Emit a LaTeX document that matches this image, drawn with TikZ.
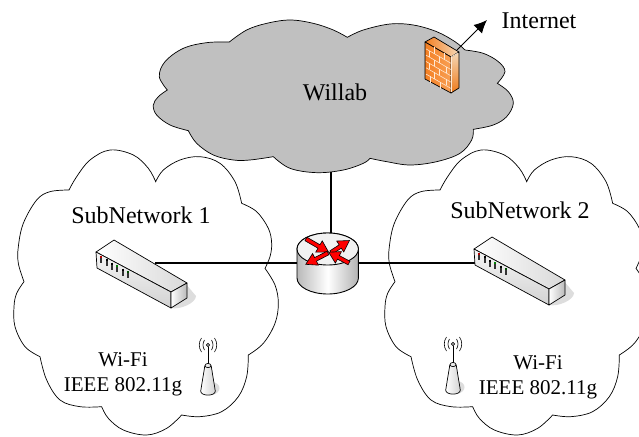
\documentclass[tikz,border=0pt]{standalone}
\usepackage{fontspec}
\setmainfont{Liberation Serif}
\usetikzlibrary{calc,arrows.meta}
\definecolor{willabgray}{HTML}{C0C0C0}
\definecolor{fworange}{HTML}{F47F22}
\definecolor{fwlight}{HTML}{F8A055}
\definecolor{fwdark}{HTML}{EE7A1A}
\definecolor{fwpale}{HTML}{F6D9B8}
\definecolor{brick}{HTML}{FFEAD6}
\definecolor{shadowgray}{HTML}{DDDDDD}
\tikzset{
  cloudline/.style={draw=black,line width=0.7pt},
  bump/.style={smooth,tension=0.6},
  link/.style={draw=black,line width=1.4pt},
  lbl/.style={font=\fontsize{24}{26}\selectfont,inner sep=0pt},
  small/.style={font=\fontsize{21}{23}\selectfont,inner sep=0pt},
  edge/.style={draw=black,line width=0.7pt,line join=round},
  subcloud/.pic={
    \begin{scope}[x=0.33333pt,y=-0.33333pt]
    \path[cloudline,fill=white] (207,150)
      -- plot[bump] coordinates {(207,150)(230,110)(270,60)(330,30)(400,45)(445,85)(467,125)}
      -- plot[bump] coordinates {(467,125)(490,90)(540,60)(600,50)(660,70)(705,125)(725,190)}
      -- plot[bump] coordinates {(725,190)(770,215)(805,265)(815,310)(810,350)(795,385)}
      -- plot[bump] coordinates {(795,385)(825,435)(835,490)(825,550)(790,610)(745,645)}
      -- plot[bump] coordinates {(745,645)(740,710)(715,770)(665,815)(600,830)(545,825)}
      -- plot[bump] coordinates {(545,825)(500,865)(440,885)(370,870)(325,835)(305,800)}
      -- plot[bump] coordinates {(305,800)(240,800)(180,780)(140,720)(120,650)}
      -- plot[bump] coordinates {(120,650)(75,620)(45,560)(42,500)(50,460)(72,425)}
      -- plot[bump] coordinates {(72,425)(55,370)(55,320)(70,250)(110,180)(150,155)(207,150)}
      -- cycle;
    \end{scope}
  },
  switchicon/.pic={
    \fill[shadowgray] (185,283) -- (196,296) .. controls (196,303) and (180,310) .. (171,308) -- cycle;
    \shade[left color=white,right color=gray!30,edge] (114,240) -- (187,283) -- (171,292) -- (96,252) -- cycle;
    \shade[top color=gray!8,bottom color=gray!35,edge] (96,252) -- (171,292) -- (171,308) -- (97,268) -- cycle;
    \shade[left color=white,right color=gray!55,edge] (171,292) -- (187,283) -- (187,298) -- (171,308) -- cycle;
    \foreach \px/\py/\pc in {101/256/red!70!black,107/259/black,112/262.5/black,117/265/green!50!black,123/268.5/black,128/271/green!30!black}{
      \draw[black!80,line width=1.3pt] (\px,\py+2) -- (\px,\py+7);
      \draw[\pc,line width=1.3pt] (\px,\py) -- (\px,\py+2);
    }
  },
  antennaicon/.pic={
    \fill[shadowgray] (212,382) .. controls (222,383) and (222,393) .. (212,395) -- cycle;
    \draw[black,line width=0.7pt] (208,346.5) -- (208,365);
    \draw[black,line width=0.6pt] (208,345) circle[radius=1.6pt];
    \draw[black,line width=0.6pt] (204.5,340) .. controls (202.5,343) and (202.5,347) .. (204.5,350);
    \draw[black,line width=0.6pt] (201.5,338) .. controls (198.5,342) and (198.5,348) .. (201.5,352);
    \draw[black,line width=0.6pt] (211.5,340) .. controls (213.5,343) and (213.5,347) .. (211.5,350);
    \draw[black,line width=0.6pt] (214.5,338) .. controls (217.5,342) and (217.5,348) .. (214.5,352);
    \shade[left color=white,right color=gray!35,edge] (204.8,366)
      .. controls (205.5,362.5) and (210.5,362.5) .. (211.2,366)
      -- (215.3,391) .. controls (215.5,396.5) and (200.5,396.5) .. (200.7,391) -- cycle;
    \draw[edge] (204.8,366) .. controls (205.5,368) and (210.5,368) .. (211.2,366);
  },
}
\newcommand\rarrow[4]{% x y angle length
  \begin{scope}[shift={(#1,#2)},rotate=#3]
    \filldraw[fill=red,draw=black,line width=0.6pt,line join=miter]
      (0pt,-2pt) -- (#4pt-11pt,-2pt) -- (#4pt-11pt,-6.5pt) -- (#4pt,0pt)
      -- (#4pt-11pt,6.5pt) -- (#4pt-11pt,2pt) -- (0pt,2pt) -- cycle;
  \end{scope}}
\begin{document}
\begin{tikzpicture}[x=1pt,y=-1pt]
\useasboundingbox (0,0) rectangle (639,436);
\clip (0,0) rectangle (639,436);
\fill[white] (0,0) rectangle (639,436);

% sub-network clouds
\pic at (0,140) {subcloud};
\pic at (371,140) {subcloud};

% Willab cloud
\begin{scope}[shift={(150,0)},x=0.33333pt,y=-0.33333pt]
\path[cloudline,fill=willabgray] (52,270)
  -- plot[bump] coordinates {(52,270)(28,230)(45,185)(100,145)(170,128)(238,126)}
  -- plot[bump] coordinates {(238,126)(290,90)(350,70)(420,60)(490,70)(550,90)(592,112)}
  -- plot[bump] coordinates {(592,112)(640,90)(720,72)(790,75)(860,95)(915,125)(945,150)}
  -- plot[bump] coordinates {(945,150)(1000,160)(1045,185)(1065,215)(1042,250)}
  -- plot[bump] coordinates {(1042,250)(1075,275)(1090,310)(1070,350)(1030,375)(970,388)}
  -- plot[bump] coordinates {(970,388)(965,420)(930,460)(860,485)(780,495)(710,485)(660,475)}
  -- plot[bump] coordinates {(660,475)(640,490)(580,510)(500,518)(420,505)(370,470)}
  -- plot[bump] coordinates {(370,470)(300,480)(250,480)(190,465)(140,430)(115,392)}
  -- plot[bump] coordinates {(115,392)(60,375)(20,345)(10,315)(25,290)(52,270)}
  -- cycle;
\end{scope}

% anchors of the connectors
\coordinate (willabfoot) at (331,172);
\coordinate (rtrtop) at (331,240);
\coordinate (rtrleft) at (298,263);
\coordinate (rtrright) at (357,263);
\coordinate (sw1port) at (155,263);
\coordinate (sw2port) at (477,263);
\coordinate (fwport) at (457,50);
\coordinate (inet) at (487,20);

% connectors
\draw[link] (willabfoot) -- (rtrtop);
\draw[link] (sw1port) -- (rtrleft);
\draw[link] (rtrright) -- (sw2port);

% switches
\pic at (0,0) {switchicon};
\pic at (378,-3) {switchicon};

% antennas
\pic at (0,0) {antennaicon};
\pic at (245,-1) {antennaicon};

% router
\shade[left color=gray!55,right color=gray!60,middle color=white,draw=black,line width=0.9pt]
  (297,249) -- (297,278) arc[start angle=180,end angle=360,x radius=30.7pt,y radius=16pt]
  -- (358.4,249) arc[start angle=0,end angle=180,x radius=30.7pt,y radius=16pt] -- cycle;
\filldraw[fill=gray!10,draw=black,line width=0.9pt] (327.7,249) ellipse[x radius=30.7pt,y radius=16pt];
\rarrow{306}{239}{-30}{26}
\rarrow{331}{252.5}{33}{22}
\rarrow{349}{263}{152}{23}
\rarrow{328}{253}{-153}{25}

% firewall
\draw[black,line width=1pt,-{Latex[length=13pt,width=12pt]}] (fwport) -- (inet);
\shade[left color=fworange,right color=fwpale,edge] (434,37) -- (459,52) -- (451,57) -- (425,42) -- cycle;
\shade[top color=fwpale,bottom color=fwdark,edge] (451,57) -- (459,52) -- (459,88) -- (451,93) -- cycle;
\shade[left color=fworange,right color=fwlight,edge] (425,42) -- (451,57) -- (451,93) -- (425,79) -- cycle;
\begin{scope}[brick,line width=0.55pt]
  \foreach \v in {0.17,0.34,0.51,0.68,0.85}{
    \draw (425+1,42+0.6+37*\v) -- (451,57+37*\v);
  }
  \foreach \u/\v in {0.35/0,0.75/0,0.15/0.17,0.55/0.17,0.35/0.34,0.8/0.34,0.15/0.51,0.55/0.51,0.35/0.68,0.8/0.68,0.2/0.85,0.6/0.85}{
    \draw (425+26*\u,42+15*\u+37*\v) -- (425+26*\u,42+15*\u+37*\v+6.3);
  }
\end{scope}
\draw[brick,line width=0.7pt] (451,57) -- (451,92);
\draw[brick,line width=0.7pt] (451,57) -- (458,53);

% texts
\node[lbl] (willab) at (335,92) {Willab};
\node[lbl] (internet) at (539,21) {Internet};
\node[lbl] (sub1) at (141,215) {SubNetwork 1};
\node[lbl] (sub2) at (520,210) {SubNetwork 2};
\node[small] (wifi1) at (123,360) {Wi-Fi};
\node[small] (ieee1) at (123,387) {IEEE 802.11g};
\node[small] (wifi2) at (538,363) {Wi-Fi};
\node[small] (ieee2) at (538,390) {IEEE 802.11g};
\end{tikzpicture}
\end{document}
